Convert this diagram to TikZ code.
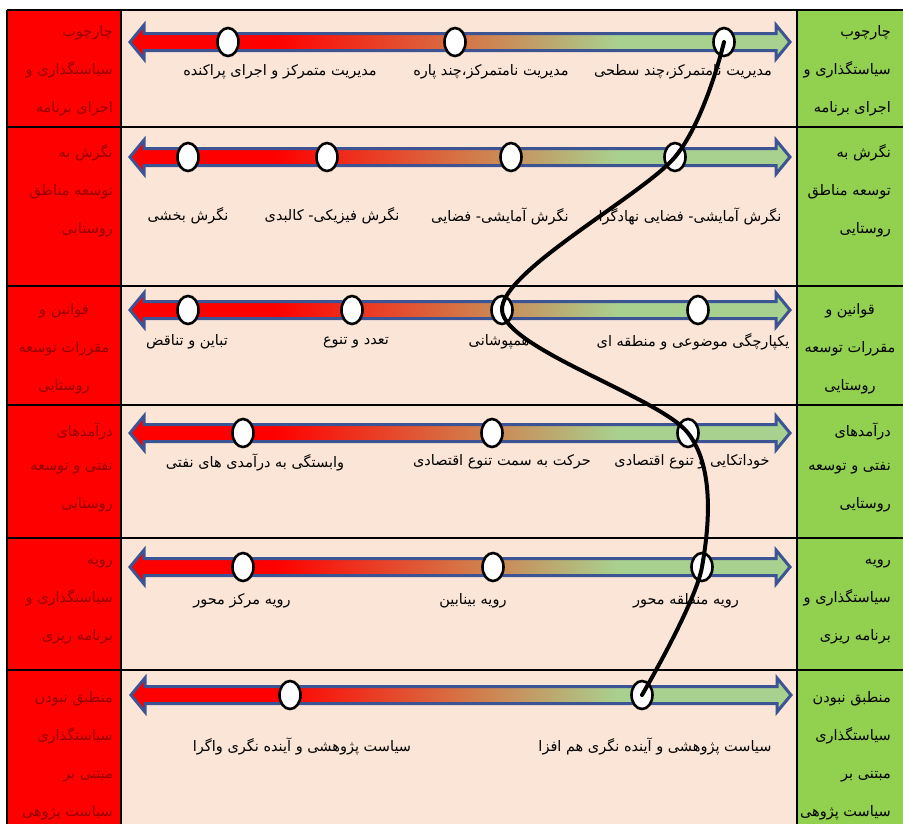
\documentclass[tikz,border=0pt]{standalone}
\usepackage{fontspec}
\usepackage{tikz}
\usetikzlibrary{shapes.geometric}
\newfontfamily\farsifont[Script=Arabic]{DejaVu Sans}
\TeXXeTstate=1
\newcommand{\fatext}[1]{\beginR#1\endR}

\begin{document}
\begin{tikzpicture}[x=1pt,y=-1pt,
  grid/.style={draw=black,line width=1.8pt},
  bar/.style={shade,shading=redgreen,draw=cbar,line width=3pt,line join=miter},
  dot/.style={ellipse,draw=black,fill=white,line width=2.6pt,minimum width=21pt,minimum height=28pt,inner sep=0pt},
  lbl/.style={font=\farsifont\fontsize{14.5}{16}\selectfont,text=black,inner sep=0pt},
  lcell/.style={font=\farsifont\fontsize{14.5}{38}\selectfont,text=credtxt,align=right,anchor=east,inner sep=0pt},
  rcell/.style={font=\farsifont\fontsize{14.5}{38}\selectfont,text=black,align=right,anchor=east,inner sep=0pt},
  trend/.style={draw=black,line width=4pt,line cap=round}]
\definecolor{cbg}{rgb}{0.984,0.898,0.839}
\definecolor{cred}{rgb}{1.0,0.0,0.0}
\definecolor{credtxt}{rgb}{0.58,0.0,0.0}
\definecolor{cgreen}{rgb}{0.573,0.816,0.314}
\definecolor{cbar}{rgb}{0.24,0.33,0.58}
\definecolor{cbarmid}{rgb}{0.84,0.45,0.27}
\definecolor{cbargreen}{rgb}{0.66,0.82,0.56}
\pgfdeclarehorizontalshading{redgreen}{100bp}{color(0bp)=(cred); color(36bp)=(cred); color(50bp)=(cbarmid); color(62bp)=(cbargreen); color(100bp)=(cbargreen)}
%
\useasboundingbox (0,0) rectangle (903,823);
\clip (0,0) rectangle (903,823);
\fill[white] (0,0) rectangle (903,823);
\fill[cred] (7,10) rectangle (121,830);
\fill[cbg] (121,10) rectangle (797,830);
\fill[cgreen] (797,10) rectangle (910,830);
%
\draw[grid] (7,10) -- (910,10);
\draw[grid] (7,127) -- (910,127);
\draw[grid] (7,286) -- (910,286);
\draw[grid] (7,405) -- (910,405);
\draw[grid] (7,538) -- (910,538);
\draw[grid] (7,670) -- (910,670);
\draw[grid] (7,10) -- (7,830);
\draw[grid] (121,10) -- (121,830);
\draw[grid] (797,10) -- (797,830);
%
\node[lcell] (l1) at (113,71) {\fatext{چارچوب}\\\fatext{سیاستگذاری و}\\\fatext{اجرای برنامه}};
\node[lcell] (l2) at (113,191) {\fatext{نگرش به}\\\fatext{توسعه مناطق}\\\fatext{روستایی}};
\node[lcell,align=center,anchor=center] (l3) at (64,349) {\fatext{قوانین و}\\\fatext{مقررات توسعه}\\\fatext{روستایی}};
\node[lcell] (l4) at (113,467) {\fatext{درآمدهای}\\[-4pt]\fatext{نفتی و توسعه}\\\fatext{روستایی}};
\node[lcell] (l5) at (113,602) {\fatext{رویه}\\\fatext{سیاستگذاری و}\\\fatext{برنامه ریزی}};
\node[lcell] (l6) at (113,756) {\fatext{منطبق نبودن}\\\fatext{سیاستگذاری}\\\fatext{مبتنی بر}\\\fatext{سیاست پژوهی}};
%
\node[rcell] (r1) at (891,71) {\fatext{چارچوب}\\\fatext{سیاستگذاری و}\\\fatext{اجرای برنامه}};
\node[rcell] (r2) at (891,191) {\fatext{نگرش به}\\\fatext{توسعه مناطق}\\\fatext{روستایی}};
\node[rcell,align=center,anchor=center] (r3) at (850,349) {\fatext{قوانین و}\\\fatext{مقررات توسعه}\\\fatext{روستایی}};
\node[rcell] (r4) at (891,467) {\fatext{درآمدهای}\\[-4pt]\fatext{نفتی و توسعه}\\\fatext{روستایی}};
\node[rcell] (r5) at (891,602) {\fatext{رویه}\\\fatext{سیاستگذاری و}\\\fatext{برنامه ریزی}};
\node[rcell] (r6) at (891,756) {\fatext{منطبق نبودن}\\\fatext{سیاستگذاری}\\\fatext{مبتنی بر}\\\fatext{سیاست پژوهی}};
%
\draw[bar] (130,42) -- ++(14,-17) -- ++(0,8.5) -- ++(632,0) -- ++(0,-8.5) -- ++(14,17) -- ++(-14,17) -- ++(0,-8.5) -- ++(-632,0) -- ++(0,8.5) -- cycle;
\draw[bar] (130,157) -- ++(14,-17) -- ++(0,8.5) -- ++(632,0) -- ++(0,-8.5) -- ++(14,17) -- ++(-14,17) -- ++(0,-8.5) -- ++(-632,0) -- ++(0,8.5) -- cycle;
\draw[bar] (130,310) -- ++(14,-17) -- ++(0,8.5) -- ++(632,0) -- ++(0,-8.5) -- ++(14,17) -- ++(-14,17) -- ++(0,-8.5) -- ++(-632,0) -- ++(0,8.5) -- cycle;
\draw[bar] (130,433) -- ++(14,-17) -- ++(0,8.5) -- ++(632,0) -- ++(0,-8.5) -- ++(14,17) -- ++(-14,17) -- ++(0,-8.5) -- ++(-632,0) -- ++(0,8.5) -- cycle;
\draw[bar] (130,567) -- ++(14,-17) -- ++(0,8.5) -- ++(632,0) -- ++(0,-8.5) -- ++(14,17) -- ++(-14,17) -- ++(0,-8.5) -- ++(-632,0) -- ++(0,8.5) -- cycle;
\draw[bar] (131,695) -- ++(14,-17) -- ++(0,8.5) -- ++(632,0) -- ++(0,-8.5) -- ++(14,17) -- ++(-14,17) -- ++(0,-8.5) -- ++(-632,0) -- ++(0,8.5) -- cycle;
%
\node[dot] (c11) at (228,42) {};
\node[dot] (c12) at (455,42) {};
\node[dot] (c13) at (724,42) {};
\node[dot] (c21) at (188,157) {};
\node[dot] (c22) at (327,157) {};
\node[dot] (c23) at (511,157) {};
\node[dot] (c24) at (675,157) {};
\node[dot] (c31) at (188,310) {};
\node[dot] (c32) at (352,310) {};
\node[dot] (c33) at (502,310) {};
\node[dot] (c34) at (698,310) {};
\node[dot] (c41) at (243,433) {};
\node[dot] (c42) at (492,433) {};
\node[dot] (c43) at (688,433) {};
\node[dot] (c51) at (243,567) {};
\node[dot] (c52) at (493,567) {};
\node[dot] (c53) at (702,567) {};
\node[dot] (c61) at (290,695) {};
\node[dot] (c62) at (642,695) {};
%
\node[lbl] (t11) at (280,72) {\fatext{مدیریت متمرکز و اجرای پراکنده}};
\node[lbl] (t12) at (491,72) {\fatext{مدیریت نامتمرکز،چند پاره}};
\node[lbl] (t13) at (683,72) {\fatext{مدیریت نامتمرکز،چند سطحی}};
\node[lbl] (t21) at (188,216) {\fatext{نگرش بخشی}};
\node[lbl] (t22) at (332,216) {\fatext{نگرش فیزیکی- کالبدی}};
\node[lbl] (t23) at (500,216) {\fatext{نگرش آمایشی- فضایی}};
\node[lbl] (t24) at (690,216) {\fatext{نگرش آمایشی- فضایی نهادگرا}};
\node[lbl] (t31) at (187,342) {\fatext{تباین و تناقض}};
\node[lbl] (t32) at (356,342) {\fatext{تعدد و تنوع}};
\node[lbl] (t33) at (499,342) {\fatext{همپوشانی}};
\node[lbl] (t34) at (693,342) {\fatext{یکپارچگی موضوعی و منطقه ای}};
\node[lbl] (t41) at (255,462) {\fatext{وابستگی به درآمدی های نفتی}};
\node[lbl] (t42) at (502,462) {\fatext{حرکت به سمت تنوع اقتصادی}};
\node[lbl] (t43) at (692,462) {\fatext{خوداتکایی و تنوع اقتصادی}};
\node[lbl] (t51) at (242,601) {\fatext{رویه مرکز محور}};
\node[lbl] (t52) at (473,601) {\fatext{رویه بینابین}};
\node[lbl] (t53) at (686,601) {\fatext{رویه منطقه محور}};
\node[lbl] (t61) at (302,746) {\fatext{سیاست پژوهشی و آینده نگری واگرا}};
\node[lbl] (t62) at (655,746) {\fatext{سیاست پژوهشی و آینده نگری هم افزا}};
%
\draw[trend] plot[smooth,tension=0.5] coordinates {(c13.center) (c24.center) (c33.center) (c43.center) (c53.center) (c62.center)};
%
\end{tikzpicture}
\end{document}
